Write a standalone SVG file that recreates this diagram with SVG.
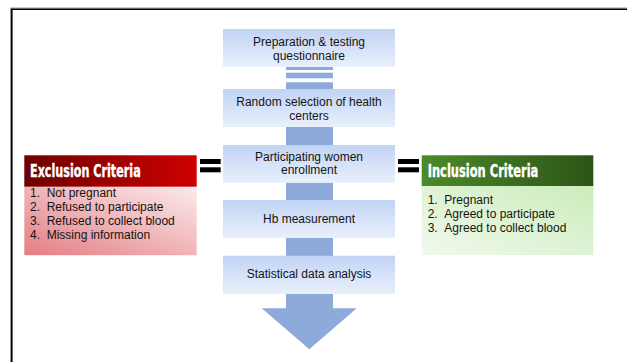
<svg xmlns="http://www.w3.org/2000/svg" width="627" height="362" viewBox="0 0 627 362">
<defs>
<linearGradient id="gBox" x1="0" y1="0" x2="0" y2="1">
<stop offset="0" stop-color="#c1d3f4"/>
<stop offset="1" stop-color="#e9f0fc"/>
</linearGradient>
<linearGradient id="gRedHead" x1="0" y1="0" x2="1" y2="0">
<stop offset="0" stop-color="#6e0000"/>
<stop offset="1" stop-color="#cf0000"/>
</linearGradient>
<linearGradient id="gRedBody" x1="0" y1="1" x2="1" y2="0">
<stop offset="0" stop-color="#e47d83"/>
<stop offset="1" stop-color="#fbebec"/>
</linearGradient>
<linearGradient id="gGreenHead" x1="0" y1="0" x2="1" y2="0">
<stop offset="0" stop-color="#4c8a2b"/>
<stop offset="1" stop-color="#2c5415"/>
</linearGradient>
<linearGradient id="gGreenBody" x1="0" y1="1" x2="1" y2="0">
<stop offset="0" stop-color="#f1f9ee"/>
<stop offset="1" stop-color="#cbecba"/>
</linearGradient>
</defs>
<style>
.box{fill:url(#gBox);}
.conn{fill:#8eaadb;}
.eq{fill:#000;}
.t{font-family:"Liberation Sans",Arial,sans-serif;font-size:12px;fill:#141414;}
.c{text-anchor:middle;}
.h{font-family:"Liberation Sans Narrow","DejaVu Sans Condensed","Liberation Sans",sans-serif;font-weight:bold;font-size:17px;fill:#fff;stroke:#fff;stroke-width:0.35;}
</style>
<rect width="627" height="362" fill="#fff"/>
<g id="frame">
<path d="M10.5,362 V8 H627" fill="none" stroke="#999" stroke-width="1"/>
<path d="M11.8,362 V9.3 H627" fill="none" stroke="#000" stroke-width="1.6"/>
</g>
<g id="connectors">
<rect class="conn" x="286" y="67" width="47" height="3"/>
<rect class="conn" x="286" y="72.7" width="47" height="5.6"/>
<rect class="conn" x="286" y="82.3" width="47" height="7"/>
<rect class="conn" x="286" y="127" width="47" height="18"/>
<rect class="conn" x="286" y="182.5" width="47" height="17.5"/>
<rect class="conn" x="286" y="238" width="47" height="18"/>
<path class="conn" d="M286,294 H333 V308.3 H356.7 L309.3,349.3 L261.7,308.3 H286 Z"/>
<rect class="eq" x="200" y="159" width="20.7" height="5"/>
<rect class="eq" x="200" y="167.3" width="20.7" height="5"/>
<rect class="eq" x="398" y="159" width="21" height="5"/>
<rect class="eq" x="398" y="167.3" width="21" height="5"/>
</g>
<g id="n1">
<rect class="box" x="223" y="29" width="172" height="38"/>
<text class="t c" x="309" y="46">Preparation &amp; testing</text>
<text class="t c" x="309" y="59.5">questionnaire</text>
</g>
<g id="n2">
<rect class="box" x="223" y="89" width="172" height="38"/>
<text class="t c" x="309" y="106">Random selection of health</text>
<text class="t c" x="309" y="119.5">centers</text>
</g>
<g id="n3">
<rect class="box" x="223" y="145" width="172" height="37.7"/>
<text class="t c" x="309" y="160.7">Participating women</text>
<text class="t c" x="309" y="174.2">enrollment</text>
</g>
<g id="n4">
<rect class="box" x="223" y="200" width="172" height="38"/>
<text class="t c" x="309" y="223.3">Hb measurement</text>
</g>
<g id="n5">
<rect class="box" x="223" y="255.7" width="172" height="38.3"/>
<text class="t c" x="309" y="278.3">Statistical data analysis</text>
</g>
<g id="exclusion">
<rect x="24.3" y="186.7" width="172.4" height="68.5" fill="url(#gRedBody)"/>
<rect x="24.3" y="155.3" width="172.4" height="31.4" fill="url(#gRedHead)"/>
<text class="h" x="30" y="176.9" textLength="110.7" lengthAdjust="spacingAndGlyphs">Exclusion Criteria</text>
<text class="t" x="30" y="196.5">1.</text><text class="t" x="46.7" y="196.5">Not pregnant</text>
<text class="t" x="30" y="210.5">2.</text><text class="t" x="46.7" y="210.5">Refused to participate</text>
<text class="t" x="30" y="224.5">3.</text><text class="t" x="46.7" y="224.5">Refused to collect blood</text>
<text class="t" x="30" y="238.5">4.</text><text class="t" x="46.7" y="238.5">Missing information</text>
</g>
<g id="inclusion">
<rect x="421.7" y="186" width="171.6" height="69" fill="url(#gGreenBody)"/>
<rect x="421.7" y="155.3" width="171.6" height="30.7" fill="url(#gGreenHead)"/>
<text class="h" x="427.7" y="176.9" textLength="110.6" lengthAdjust="spacingAndGlyphs">Inclusion Criteria</text>
<text class="t" x="427.7" y="204">1.</text><text class="t" x="444.3" y="204">Pregnant</text>
<text class="t" x="427.7" y="218">2.</text><text class="t" x="444.3" y="218">Agreed to participate</text>
<text class="t" x="427.7" y="232">3.</text><text class="t" x="444.3" y="232">Agreed to collect blood</text>
</g>
</svg>
